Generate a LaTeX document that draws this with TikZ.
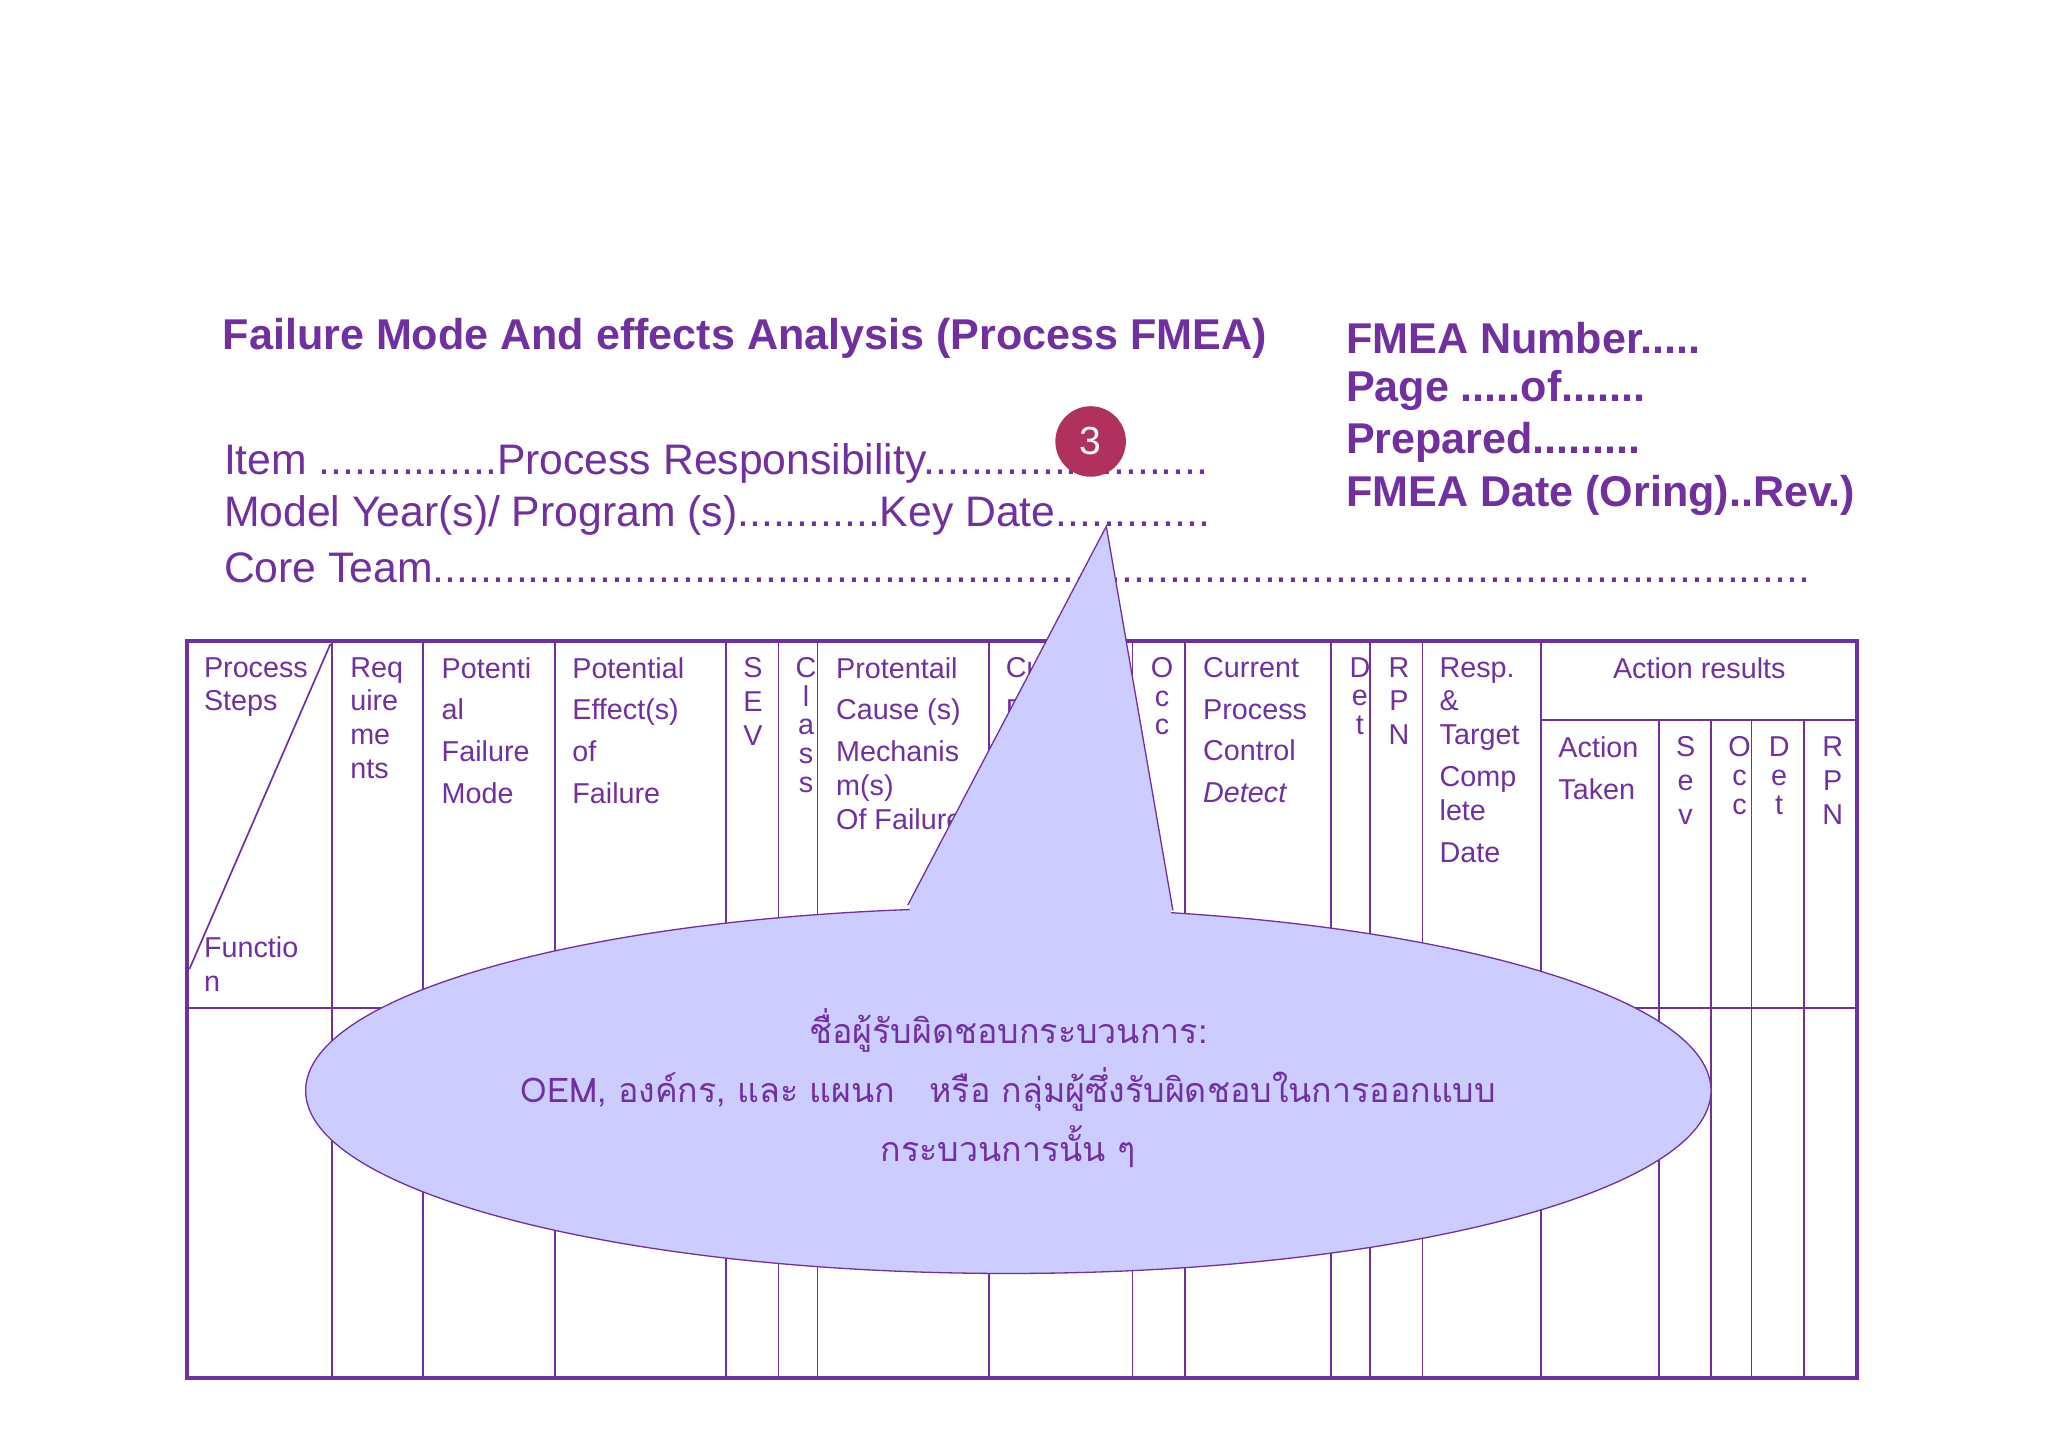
\documentclass[tikz,border=0pt]{standalone}
\usepackage{fontspec}
\setmainfont{Liberation Sans}
\newfontfamily\thaifont[Script=Thai]{Loma}
\usetikzlibrary{shapes.geometric}
\definecolor{pu}{HTML}{7030A0}
\definecolor{bub}{HTML}{CCCCFF}
\definecolor{badge}{HTML}{B0305E}
\begin{document}
\begin{tikzpicture}[x=1pt,y=-1pt,
  hd/.style={anchor=west,text=pu,font=\fontsize{33}{36}\selectfont\bfseries},
  ln/.style={anchor=west,text=pu,font=\fontsize{32.7}{36}\selectfont},
  cell/.style={anchor=north west,text=pu,align=left,inner sep=0pt,font=\fontsize{22}{32}\selectfont},
  grid/.style={draw=pu,line width=1.3pt}]
\useasboundingbox (0,0) rectangle (1568,1110);
\node[hd] (t1) at (167,259) {Failure Mode And effects Analysis (Process FMEA)};
\node[hd] (t2) at (1027,259) {FMEA Number.....};
\node[hd] (t3) at (1027,299) {Page .....of.......};
\node[hd] (t4) at (1027,339) {Prepared.........};
\node[hd] (t5) at (1027,379) {FMEA Date (Oring)..Rev.)};
\node[ln] (l1) at (168,355) {Item ...............Process Responsibility........................};
\node[ln] (l2) at (168,395) {Model Year(s)/ Program (s)............Key Date.............};
\node[ln] (l3) at (168,435) {Core Team....................................................................................................................};
% table
\draw[grid,line width=3pt] (143,491) rectangle (1422,1055);
\draw[grid] (143,772) -- (1422,772);
\foreach \x in {254,324,425,556,596,626,757,867,907,1019,1049,1089,1180}
  \draw[grid] (\x,491) -- (\x,1055);
\foreach \x in {1270,1310,1341,1381}
  \draw[grid] (\x,551) -- (\x,1055);
\draw[grid] (1180,551) -- (1422,551);
\draw[grid] (253,493) -- (145,742);
\node[cell] (c1) at (156,503) {Process\\[-6pt]Steps};
\node[cell] (c1b) at (156,717) {Functio\\[-6pt]n};
\node[cell] (c2) at (268,503) {Req\\[-6pt]uire\\[-6pt]me\\[-6pt]nts};
\node[cell] (c3) at (338,503) {Potenti\\al\\Failure\\Mode};
\node[cell] (c4) at (438,503) {Potential\\Effect(s)\\of\\Failure};
\node[cell,align=center] (c5) at (569,503) {S\\[-6pt]E\\[-6pt]V};
\node[cell,align=center] (c6) at (609,503) {C\\[-10pt]l\\[-10pt]a\\[-10pt]s\\[-10pt]s};
\node[cell] (c7) at (640,503) {Protentail\\Cause (s)\\Mechanis\\[-6pt]m(s)\\[-6pt]Of Failure};
\node[cell] (c8) at (770,503) {Current\\Process\\Control\\Prevent};
\node[cell,align=center] (c9) at (881,503) {O\\[-10pt]c\\[-10pt]c};
\node[cell] (c10) at (921,503) {Current\\Process\\Control\\\textit{Detect}};
\node[cell,align=center] (c11) at (1033,503) {D\\[-10pt]e\\[-10pt]t};
\node[cell,align=center] (c12) at (1063,503) {R\\[-6pt]P\\[-6pt]N};
\node[cell] (c13) at (1102,503) {Resp.\\[-6pt]\&\\[-6pt]Target\\Comp\\[-6pt]lete\\Date};
\node[cell,anchor=north] (c14) at (1301,503) {Action results};
\node[cell] (c15) at (1193,564) {Action\\Taken};
\node[cell,align=center] (c16) at (1283,564) {S\\[-6pt]e\\[-6pt]v};
\node[cell,align=center] (c17) at (1323,564) {O\\[-10pt]c\\[-10pt]c};
\node[cell,align=center] (c18) at (1354,564) {D\\[-10pt]e\\[-10pt]t};
\node[cell,align=center] (c19) at (1395,564) {R\\[-6pt]P\\[-6pt]N};
% callout
\coordinate (tip) at (847,403);
\coordinate (pa) at (695,693);
\coordinate (pb) at (898,697);
\fill[bub] (pa) -- (tip) -- (pb) -- cycle;
\node[ellipse,draw=pu,fill=bub,line width=1pt,minimum width=1076pt,minimum height=280pt,inner sep=0pt] (ell) at (772,835) {};
\fill[bub] (697,690) -- (tip) -- (896,692) -- (898,720) -- (695,720) -- cycle;
\draw[pu,line width=1pt] (pa) -- (tip) -- (pb);
\node[text=pu,align=center,font=\thaifont\fontsize{26}{45}\selectfont] (bt) at (772,833) {ชื่อผู้รับผิดชอบกระบวนการ:\\OEM, องค์กร, และ แผนก\quad หรือ กลุ่มผู้ซึ่งรับผิดชอบในการออกแบบ\\กระบวนการนั้น ๆ};
\node[circle,fill=badge,minimum size=54pt,inner sep=0pt,text=white,font=\fontsize{30}{30}\selectfont] (b3) at (835,338) {3};
\end{tikzpicture}
\end{document}
